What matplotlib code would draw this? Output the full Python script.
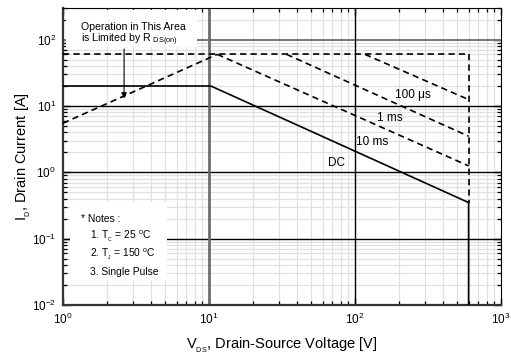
import matplotlib
matplotlib.use("Agg")
import matplotlib.pyplot as plt
from matplotlib.patches import Rectangle
import numpy as np

plt.rcParams['font.family'] = ['Liberation Sans', 'DejaVu Sans']
plt.rcParams['mathtext.fontset'] = 'custom'
plt.rcParams['mathtext.rm'] = 'Liberation Sans'
plt.rcParams['mathtext.it'] = 'Liberation Sans'
plt.rcParams['lines.scale_dashes'] = False

# Safe operating area boundaries (V in volts, I in amps)
rds_v = [1.0, 11.4]
rds_i = [5.5, 60.0]

peak_v = [1.0, 600.0]
peak_i = [60.0, 60.0]

edge_v = [600.0, 600.0]
edge_i = [60.0, 0.35]

pulse_labels = ["100 \u03bcs", "1 ms", "10 ms"]
pulse_v = [[117.0, 600.0], [34.0, 600.0], [11.4, 600.0]]
pulse_i = [[60.0, 12.5], [60.0, 3.5], [60.0, 1.25]]
pulse_label_pos = [(250.0, 14.5), (174.0, 6.7), (131.0, 2.83)]

dc_v = [1.0, 10.3, 600.0, 600.0]
dc_i = [20.0, 20.0, 0.35, 0.01]
dc_label_pos = (75.0, 1.36)

xlim = (1.0, 1000.0)
ylim = (0.01, 300.0)

fig = plt.figure(figsize=(5.11, 3.60), dpi=100)
ax = fig.add_axes([0.1233, 0.1528, 0.8571, 0.8250])
ax.set_xscale('log')
ax.set_yscale('log')
ax.set_xlim(*xlim)
ax.set_ylim(*ylim)

# grid: faint minor lines, heavier decade lines
ax.grid(True, which='minor', color='#e0e0e0', lw=0.9, zorder=0)
ax.set_axisbelow(True)
for yv, col, lw in [(100, '#777777', 1.4), (10, 'black', 1.0), (1, 'black', 1.0), (0.1, 'black', 1.0)]:
    ax.axhline(yv, color=col, lw=lw, zorder=1)
for xv, col, lw in [(10, '#666666', 1.9), (100, 'black', 1.0)]:
    ax.axvline(xv, color=col, lw=lw, zorder=1)

# white boxes behind annotations
ax.add_patch(Rectangle((0.007, 0.870), 0.30, 0.123, transform=ax.transAxes,
                       facecolor='white', edgecolor='none', zorder=2))
ax.add_patch(Rectangle((0.016, 0.085), 0.222, 0.263, transform=ax.transAxes,
                       facecolor='white', edgecolor='none', zorder=2))

dash = (4.5, 3.0)
ax.plot(rds_v, rds_i, color='black', lw=1.2, dashes=dash, zorder=3)
ax.plot(peak_v, peak_i, color='black', lw=1.2, dashes=dash, zorder=3)
ax.plot(edge_v, edge_i, color='black', lw=1.2, dashes=dash, zorder=3)
for v, i in zip(pulse_v, pulse_i):
    ax.plot(v, i, color='black', lw=1.2, dashes=dash, zorder=3)
ax.plot(dc_v, dc_i, color='black', lw=1.2, solid_joinstyle='miter', zorder=3)

for lab, (x, y) in zip(pulse_labels, pulse_label_pos):
    ax.text(x, y, lab, fontsize=8.5, ha='center', va='center', zorder=4)
ax.text(dc_label_pos[0], dc_label_pos[1], "DC", fontsize=8.5, ha='center', va='center', zorder=4)

# R_DS(on) annotation
ax.text(0.04, 0.937, "Operation in This Area", transform=ax.transAxes,
        fontsize=7.6, ha='left', va='center', zorder=4)
ax.text(0.04, 0.893, "is Limited by R $_{\\mathrm{DS(on)}}$", transform=ax.transAxes,
        fontsize=7.6, ha='left', va='center', zorder=4)
ax.annotate("", xy=(2.62, 13.0), xytext=(2.62, 72.0),
            arrowprops=dict(arrowstyle='-|>', color='black', lw=0.8,
                            mutation_scale=8, shrinkA=0, shrinkB=0), zorder=4)

# notes
ax.text(0.04, 0.29, "* Notes :", transform=ax.transAxes, fontsize=7.4, ha='left', va='center', zorder=4)
ax.text(0.062, 0.23, "1. T$_{_C}$ = 25 $^{o}$C", transform=ax.transAxes, fontsize=7.4, ha='left', va='center', zorder=4)
ax.text(0.062, 0.17, "2. T$_{_J}$ = 150 $^{o}$C", transform=ax.transAxes, fontsize=7.4, ha='left', va='center', zorder=4)
ax.text(0.062, 0.112, "3. Single Pulse", transform=ax.transAxes, fontsize=7.4, ha='left', va='center', zorder=4)

# ticks and spines
ax.tick_params(which='both', direction='in', top=True, right=True, labelsize=8.5, pad=5)
ax.tick_params(which='major', length=5, width=1.0)
ax.tick_params(which='minor', length=3, width=0.9)
for side in ['left', 'bottom']:
    ax.spines[side].set_linewidth(1.6)
    ax.spines[side].set_color('#333333')
for side in ['top', 'right']:
    ax.spines[side].set_linewidth(0.8)

ax.set_xlabel("V$_{_{DS}}$, Drain-Source Voltage [V]", fontsize=10.5, labelpad=6)
ax.set_ylabel("I$_{_D}$, Drain Current [A]", fontsize=10.5, labelpad=-1)

fig.savefig("out.png", dpi=100)
